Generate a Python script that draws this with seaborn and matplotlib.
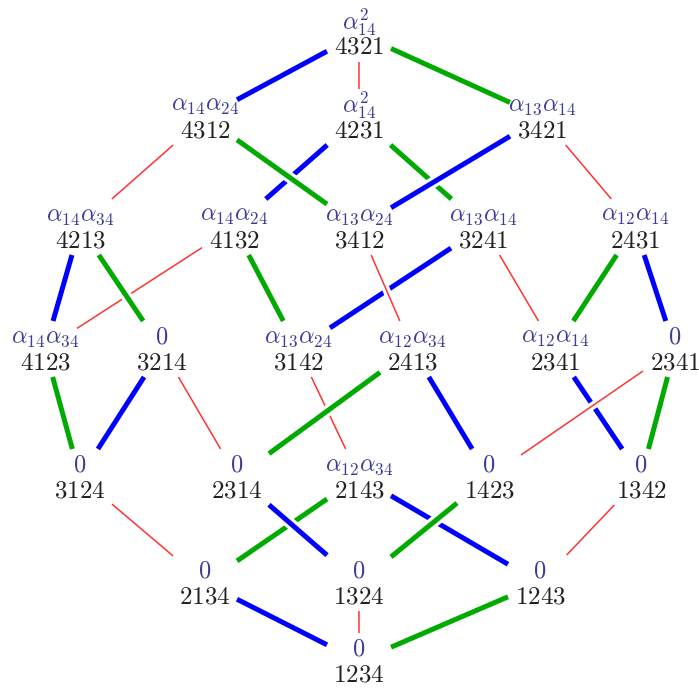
import matplotlib
matplotlib.use("Agg")
import matplotlib.pyplot as plt
import seaborn as sns

sns.set_style("white")
plt.rcParams['mathtext.fontset'] = 'cm'

# nodes: permutation, factor label, x, y (centre of the two-line block)
perms = ["4321",
         "4312", "4231", "3421",
         "4213", "4132", "3412", "3241", "2431",
         "4123", "3214", "3142", "2413", "2341", "2341b",
         "3124", "2314", "2143", "1423", "1342",
         "2134", "1324", "1243",
         "1234"]
factors = [r"\alpha_{14}^2",
           r"\alpha_{14}\alpha_{24}", r"\alpha_{14}^2", r"\alpha_{13}\alpha_{14}",
           r"\alpha_{14}\alpha_{34}", r"\alpha_{14}\alpha_{24}", r"\alpha_{13}\alpha_{24}",
           r"\alpha_{13}\alpha_{14}", r"\alpha_{12}\alpha_{14}",
           r"\alpha_{14}\alpha_{34}", "0", r"\alpha_{13}\alpha_{24}", r"\alpha_{12}\alpha_{34}",
           r"\alpha_{12}\alpha_{14}", "0",
           "0", "0", r"\alpha_{12}\alpha_{34}", "0", "0",
           "0", "0", "0",
           "0"]
node_x = [359,
          205, 359, 542,
          80, 234, 359, 483, 635,
          45, 162, 298, 412, 555, 675,
          80, 237, 359, 489, 641,
          205, 359, 540,
          359]
node_y = [34,
          117, 117, 117,
          227, 227, 227, 227, 227,
          349, 349, 349, 349, 349, 349,
          477, 477, 477, 477, 477,
          583, 583, 583,
          661]

# edges (upper, lower, colour); later edges are drawn on top
edges = [("4321", "4312", "b"), ("4321", "4231", "r"), ("4321", "3421", "g"),
         ("4231", "4132", "b"), ("4231", "3241", "g"),
         ("4312", "4213", "r"), ("4312", "3412", "g"),
         ("3421", "3412", "b"), ("3421", "2431", "r"),
         ("4132", "4123", "r"), ("4132", "3142", "g"),
         ("4213", "4123", "b"), ("4213", "3214", "g"),
         ("3241", "3142", "b"), ("3241", "2341", "r"),
         ("3412", "2413", "r"),
         ("2431", "2341", "g"), ("2431", "2341b", "b"),
         ("3142", "2143", "r"),
         ("4123", "3124", "g"),
         ("3214", "3124", "b"), ("3214", "2314", "r"),
         ("2413", "2314", "g"), ("2413", "1423", "b"),
         ("2341", "1342", "b"),
         ("2341b", "1423", "r"), ("2341b", "1342", "g"),
         ("2143", "2134", "g"), ("2143", "1243", "b"),
         ("3124", "2134", "r"),
         ("2314", "1324", "b"),
         ("1423", "1324", "g"),
         ("1342", "1243", "r"),
         ("2134", "1234", "b"), ("1324", "1234", "r"), ("1243", "1234", "g")]

colors = {"b": "#0000ff", "g": "#00aa00", "r": "#ff3333"}
widths = {"b": 3.6, "g": 3.6, "r": 1.1}
HW, HH = 32, 28

pos = {p: (x, y) for p, x, y in zip(perms, node_x, node_y)}


def clip(x0, y0, x1, y1):
    dx, dy = x1 - x0, y1 - y0
    t = min(HW / abs(dx) if dx else 1e9, HH / abs(dy) if dy else 1e9)
    return x0 + t * dx, y0 + t * dy


fig = plt.figure(figsize=(6.99, 6.92), dpi=100)
ax = fig.add_axes([0, 0, 1, 1])
ax.set_xlim(0, 699)
ax.set_ylim(692, 0)
ax.axis("off")

z = 2
for a, b, c in edges:
    xa, ya = pos[a]
    xb, yb = pos[b]
    sx, sy = clip(xa, ya, xb, yb)
    ex, ey = clip(xb, yb, xa, ya)
    lw = widths[c]
    sns.lineplot(x=[sx, ex], y=[sy, ey], color="white", linewidth=lw + 4.5,
                 sort=False, estimator=None, ax=ax, zorder=z,
                 solid_capstyle="butt")
    sns.lineplot(x=[sx, ex], y=[sy, ey], color=colors[c], linewidth=lw,
                 sort=False, estimator=None, ax=ax, zorder=z + 1,
                 solid_capstyle="butt")
    z += 2

for p, f, x, y in zip(perms, factors, node_x, node_y):
    ax.text(x, y - 12, "$" + f + "$", ha="center", va="center",
            fontsize=17.5, color="#3c3c96", zorder=200)
    ax.text(x, y + 13, "$" + p[:4] + "$", ha="center", va="center",
            fontsize=18, color="#222222", zorder=200)

fig.savefig("out.png", dpi=100)
